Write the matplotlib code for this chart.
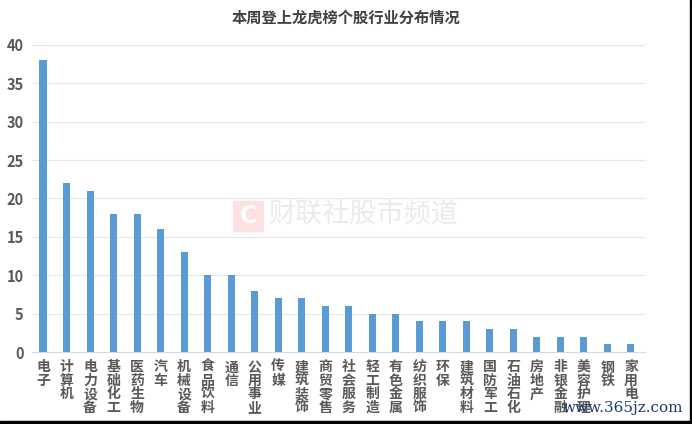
import matplotlib
matplotlib.use("Agg")
import matplotlib.pyplot as plt
from matplotlib.patches import Rectangle, FancyBboxPatch

plt.rcParams['font.family'] = ['Noto Sans CJK SC', 'DejaVu Sans']

title = "本周登上龙虎榜个股行业分布情况"
categories = ["电子", "计算机", "电力设备", "基础化工", "医药生物", "汽车", "机械设备",
              "食品饮料", "通信", "公用事业", "传媒", "建筑装饰", "商贸零售", "社会服务",
              "轻工制造", "有色金属", "纺织服饰", "环保", "建筑材料", "国防军工", "石油石化",
              "房地产", "非银金融", "美容护理", "钢铁", "家用电"]
values = [38, 22, 21, 18, 18, 16, 13, 10, 10, 8, 7, 7, 6, 6, 5, 5, 4, 4, 4, 3, 3, 2, 2, 2, 1, 1]
yticks = [0, 5, 10, 15, 20, 25, 30, 35, 40]

fig = plt.figure(figsize=(6.92, 4.24), dpi=100)
ax = fig.add_axes([0.0462, 0.1698, 0.886, 0.7241])

x = list(range(len(categories)))
ax.bar(x, values, width=0.3, color="#5B9BD5", zorder=3)
ax.set_xlim(-0.47, 25.6)
ax.set_ylim(0, 40)
ax.set_yticks(yticks)
ax.set_yticklabels([str(v) for v in yticks], fontsize=10.5, fontweight='bold', color='#595959')
ax.yaxis.grid(True, color='#E6E6E6', linewidth=0.8, zorder=0)
ax.tick_params(axis='y', length=0, pad=6)
ax.tick_params(axis='x', length=0, pad=6)
ax.set_xticks(x)
ax.set_xticklabels(["\n".join(c) for c in categories], fontsize=10, fontweight='bold',
                   color='#595959', linespacing=0.95, va='top')
for s in ['top', 'right', 'left']:
    ax.spines[s].set_visible(False)
ax.spines['bottom'].set_color('#D9D9D9')

fig.text(0.5, 0.958, title, ha='center', va='center', fontsize=11,
         fontweight='bold', color='#404040')

# watermarks
fig.add_artist(FancyBboxPatch((235 / 692, 1 - 231 / 424), 27 / 692, 29 / 424,
                              boxstyle="round,pad=0.003", transform=fig.transFigure,
                              facecolor='#FBE1E1', edgecolor='none', zorder=1))
fig.text(248.5 / 692, 1 - 216 / 424, "C", ha='center', va='center', fontsize=17,
         fontweight='bold', color='white', family=['DejaVu Sans'], zorder=2)
fig.text(268 / 692, 1 - 214 / 424, "财联社股市频道", ha='left', va='center', fontsize=19.5,
         color='#EBEBEB', zorder=1)
fig.text(683 / 692, 0.038, "www.365jz.com", ha='right', va='center', fontsize=11,
         color='#1F3A6B', family=['DejaVu Serif'])

# black frame on right and bottom edges
fig.add_artist(Rectangle((0.9965, 0), 0.0035, 1, transform=fig.transFigure, color='black'))
fig.add_artist(Rectangle((0, 0), 1, 0.007, transform=fig.transFigure, color='black'))

fig.savefig("out.png", dpi=100)
